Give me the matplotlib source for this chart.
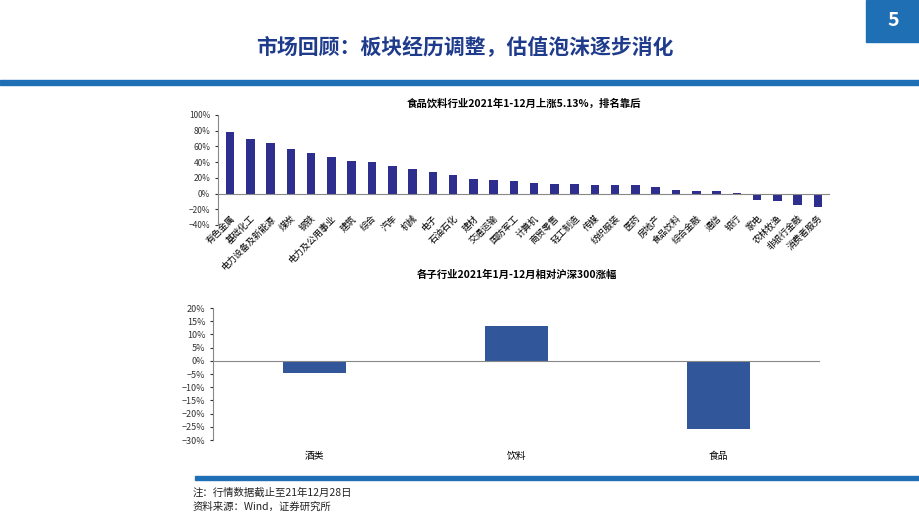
import matplotlib.pyplot as plt
from matplotlib.patches import Rectangle
from matplotlib.ticker import PercentFormatter

plt.rcParams['font.family'] = ['Noto Sans CJK SC', 'DejaVu Sans']

industries = ["有色金属", "基础化工", "电力设备及新能源", "煤炭", "钢铁", "电力及公用事业", "建筑",
              "综合", "汽车", "机械", "电子", "石油石化", "建材", "交通运输", "国防军工", "计算机",
              "商贸零售", "轻工制造", "传媒", "纺织服装", "医药", "房地产", "食品饮料", "综合金融",
              "通信", "银行", "家电", "农林牧渔", "非银行金融", "消费者服务"]
industry_chg = [79, 69, 65, 57, 52, 46, 41, 40, 35, 31, 28, 24, 19, 17, 16, 14, 12, 12, 11, 11,
                11, 8, 5, 3, 3, 1, -8, -9, -14, -17]

sub_names = ["酒类", "饮料", "食品"]
sub_rel = [-4.5, 13.3, -26]

W, H = 920, 518
fig = plt.figure(figsize=(W / 100, H / 100), dpi=100)
fig.patch.set_facecolor("white")

def fx(px): return px / W
def fy(py): return 1 - py / H

# header
fig.text(fx(465), fy(48), "市场回顾：板块经历调整，估值泡沫逐步消化", ha="center", va="center",
         fontsize=15, color="#1f3b8c", fontweight="bold")
fig.patches.append(Rectangle((0, fy(85)), 1, 5 / H, transform=fig.transFigure, color="#1f6fb4"))
fig.patches.append(Rectangle((fx(866), fy(42)), fx(54), 42 / H, transform=fig.transFigure, color="#1f6fb4"))
fig.text(fx(893), fy(21), "5", ha="center", va="center", fontsize=14, color="white", fontweight="bold")

# top chart
ax1 = fig.add_axes([fx(218), fy(225), fx(612), (225 - 115) / H])
x = range(len(industries))
ax1.bar(x, industry_chg, width=0.42, color="#2e2e8f")
ax1.set_ylim(-40, 100)
ax1.set_yticks(range(-40, 101, 20))
ax1.yaxis.set_major_formatter(PercentFormatter(decimals=0))
ax1.tick_params(axis="y", labelsize=6, length=2, colors="#333333")
ax1.axhline(0, color="#888888", lw=0.8)
ax1.set_xlim(-0.6, len(industries) - 0.4)
ax1.set_xticks(list(x))
ax1.set_xticklabels(industries, rotation=45, ha="right", fontsize=6.5, rotation_mode="anchor")
ax1.tick_params(axis="x", length=0, pad=-8)
for s in ["top", "right", "bottom"]:
    ax1.spines[s].set_visible(False)
ax1.spines["left"].set_color("#888888")
ax1.set_title("食品饮料行业2021年1-12月上涨5.13%，排名靠后", fontsize=7.5, fontweight="bold", pad=6)

# bottom chart
ax2 = fig.add_axes([fx(213), fy(440), fx(607), (440 - 308) / H])
ax2.bar(range(3), sub_rel, width=0.31, color="#31579a")
ax2.set_ylim(-30, 20)
ax2.set_yticks(range(-30, 21, 5))
ax2.yaxis.set_major_formatter(PercentFormatter(decimals=0))
ax2.tick_params(axis="y", labelsize=6.5, length=2, colors="#333333")
ax2.axhline(0, color="#888888", lw=0.8)
ax2.set_xlim(-0.5, 2.5)
ax2.set_xticks(range(3))
ax2.set_xticklabels(sub_names, fontsize=7)
ax2.tick_params(axis="x", length=0, pad=8)
for s in ["top", "right", "bottom"]:
    ax2.spines[s].set_visible(False)
ax2.spines["left"].set_color("#888888")
ax2.set_title("各子行业2021年1月-12月相对沪深300涨幅", fontsize=7.5, fontweight="bold", pad=22)

# footer
fig.patches.append(Rectangle((fx(195), fy(480)), fx(725), 4 / H, transform=fig.transFigure, color="#1f6fb4"))
fig.text(fx(193), fy(493), "注：行情数据截止至21年12月28日", fontsize=7.5, va="center", color="#222222")
fig.text(fx(193), fy(507), "资料来源：Wind，证券研究所", fontsize=7.5, va="center", color="#222222")

fig.savefig("out.png", dpi=100)
